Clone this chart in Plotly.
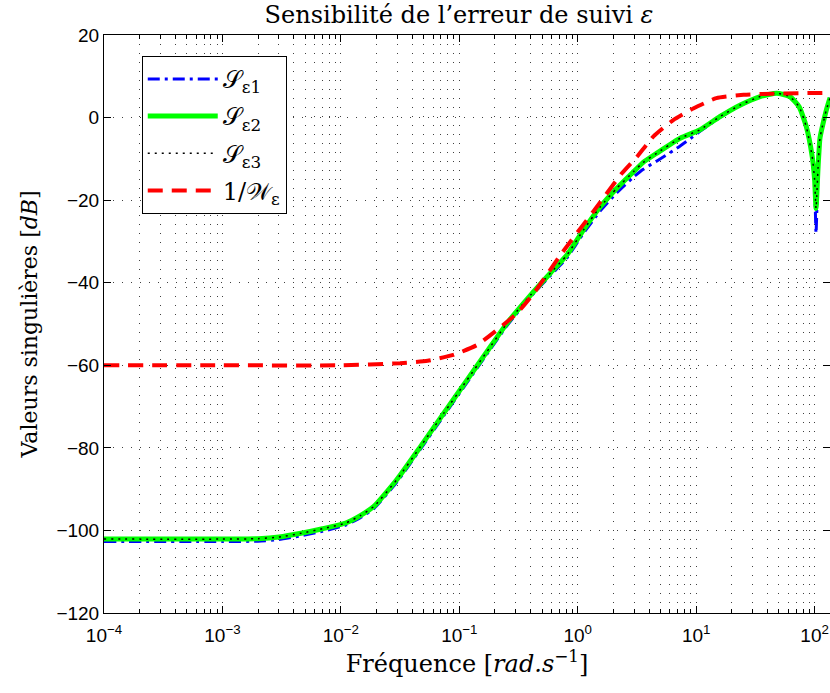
import plotly.graph_objects as go

# frequencies (rad/s) and singular values (dB)
freq_s = [1e-4, 1e-3, 2e-3, 3e-3, 4.6e-3, 7e-3, 1.1e-2, 1.46e-2, 1.9e-2, 2.95e-2, 4.7e-2,
          7.4e-2, 0.116, 0.171, 0.253, 0.40, 0.586, 0.81, 1.12, 1.55, 2.14, 2.96, 3.55,
          4.66, 7.33, 10.7, 15.8, 23.4, 34.7, 47.9, 61.7, 74.1, 85.1, 95.5, 100.0,
          102.8, 107.0, 111.0, 115.8, 125.3, 135.0]
s_eps1 = [-102.7, -102.7, -102.6, -102.2, -101.3, -100.2, -98.7, -96.9, -94.7, -88.4, -80.3,
          -72.2, -64.2, -57.3, -50.4, -43.4, -38.3, -34.0, -28.0, -22.6, -18.2, -14.4, -12.6,
          -10.5, -6.9, -3.4, 0.0, 2.9, 5.1, 6.0, 5.1, 2.6, -2.2, -9.5, -16.0,
          -28.0, -12.5, -5.5, -2.6, 1.6, 4.8]
s_eps2 = [-102.1, -102.1, -102.0, -101.6, -100.7, -99.6, -98.2, -96.4, -94.2, -87.8, -79.7,
          -71.6, -63.6, -56.7, -49.8, -43.0, -37.7, -33.3, -27.2, -21.6, -17.1, -13.1, -10.9,
          -8.6, -5.0, -3.0, 0.2, 3.0, 5.1, 5.9, 5.1, 2.6, -2.2, -9.5, -15.0,
          -22.0, -12.0, -5.0, -2.4, 1.7, 4.8]
s_eps3 = [-102.1, -102.1, -102.0, -101.6, -100.7, -99.6, -98.2, -96.4, -94.2, -87.8, -79.7,
          -71.6, -63.6, -56.7, -49.8, -43.0, -37.7, -33.3, -27.2, -21.6, -17.1, -13.1, -10.9,
          -8.6, -5.0, -3.0, 0.2, 3.0, 5.1, 5.9, 5.1, 2.6, -2.2, -9.5, -15.0,
          -22.0, -12.0, -5.0, -2.4, 1.7, 4.8]

freq_w = [1e-4, 1e-3, 1e-2, 3.16e-2, 5.4e-2, 8.9e-2, 0.141, 0.209, 0.307, 0.424,
          0.736, 1.35, 2.36, 3.16, 4.34, 6.4, 9.44, 14.8, 25.1, 44.7, 135.0]
inv_w = [-60.0, -60.0, -60.0, -59.5, -58.9, -57.5, -55.1, -51.4, -47.4, -42.6,
         -32.8, -22.8, -13.5, -9.5, -4.6, -0.6, 2.2, 4.7, 5.5, 5.8, 6.0]

x_tickvals = [1e-4, 1e-3, 1e-2, 1e-1, 1e0, 1e1, 1e2]
x_ticktext = ['10<sup>−4</sup>', '10<sup>−3</sup>', '10<sup>−2</sup>', '10<sup>−1</sup>',
              '10<sup>0</sup>', '10<sup>1</sup>', '10<sup>2</sup>']
x_minor = [m * 10.0 ** k for k in range(-4, 3) for m in range(2, 10)]

serif = 'DejaVu Serif'
sans = 'Liberation Sans'

fig = go.Figure()

fig.add_trace(go.Scatter(x=freq_s, y=s_eps1, mode='lines', name='𝒮<sub>ε1</sub>',
                         line=dict(color='#0000ff', width=3, dash='12px,5px,3px,5px',
                                   shape='spline', smoothing=0.5),
                         legendgroup='a'))
fig.add_trace(go.Scatter(x=freq_s, y=s_eps2, mode='lines', name='𝒮<sub>ε2</sub>',
                         line=dict(color='#00ff00', width=5, shape='spline', smoothing=0.5),
                         legendgroup='b'))
fig.add_trace(go.Scatter(x=freq_s, y=s_eps3, mode='lines', name='𝒮<sub>ε3</sub>',
                         line=dict(color='black', width=1.5, dash='2px,5px',
                                   shape='spline', smoothing=0.5),
                         legendgroup='c'))
fig.add_trace(go.Scatter(x=freq_w, y=inv_w, mode='lines', name='1/𝒲<sub>ε</sub>',
                         line=dict(color='#ff0000', width=4, dash='15px,9px',
                                   shape='spline', smoothing=0.5),
                         legendgroup='d'))

grid_col = 'rgba(0,0,0,0.75)'

fig.update_layout(
    width=830, height=693,
    margin=dict(l=104, r=0, t=35, b=80),
    paper_bgcolor='white', plot_bgcolor='white',
    title=dict(text='Sensibilité de l’erreur de suivi <i>ε</i>', xref='paper', x=0.489,
               xanchor='center', y=0.979, yanchor='middle',
               font=dict(family=serif, size=24, color='black')),
    legend=dict(x=0.052, y=0.964, xanchor='left', yanchor='top',
                bgcolor='white', bordercolor='black', borderwidth=1,
                font=dict(family=serif, size=24, color='black'),
                itemwidth=70, tracegroupgap=3, traceorder='grouped'),
    xaxis=dict(type='log', range=[-4, 2.13],
               tickmode='array', tickvals=x_tickvals, ticktext=x_ticktext,
               showline=True, linecolor='black', linewidth=1, mirror='allticks',
               ticks='inside', ticklen=7, tickcolor='black',
               showgrid=True, gridcolor=grid_col, griddash='1px,8px', gridwidth=1,
               minor=dict(tickmode='array', tickvals=x_minor, ticks='inside', ticklen=4,
                          tickcolor='black', showgrid=True, gridcolor=grid_col,
                          griddash='1px,8px'),
               tickfont=dict(family=sans, size=19, color='black'),
               ticklabelstandoff=5,
               zeroline=False,
               title=dict(text='Fréquence [<i>rad.s</i><sup>−1</sup>]', standoff=6,
                          font=dict(family=serif, size=24, color='black'))),
    yaxis=dict(range=[-120, 20], dtick=20,
               showline=True, linecolor='black', linewidth=1, mirror='allticks',
               ticks='inside', ticklen=7, tickcolor='black',
               showgrid=True, gridcolor=grid_col, griddash='1px,8px', gridwidth=1,
               tickfont=dict(family=sans, size=19, color='black'),
               zeroline=False,
               title=dict(text='Valeurs singulières [<i>dB</i>]', standoff=12,
                          font=dict(family=serif, size=22, color='black'))),
)

fig.write_html("out.html", config={'displayModeBar': False},
               post_script="document.body.style.margin='0px';")
